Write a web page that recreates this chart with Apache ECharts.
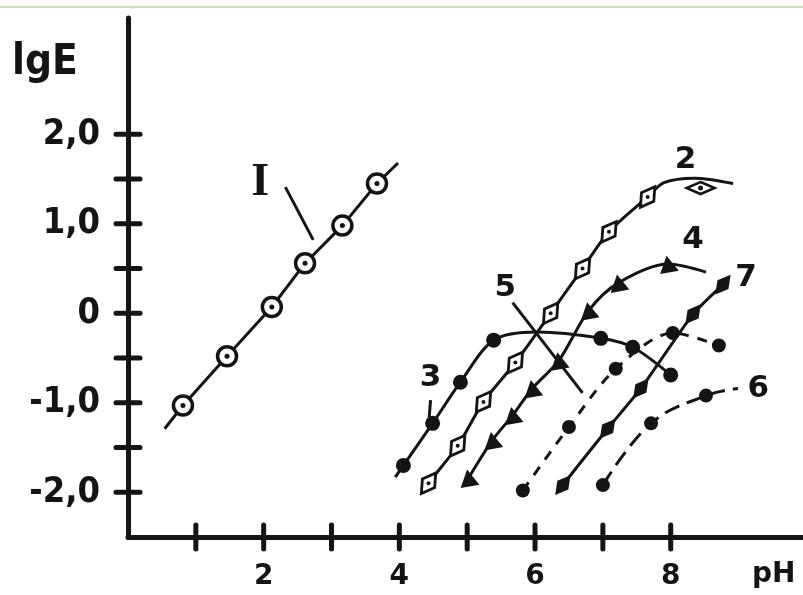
<!DOCTYPE html>
<html>
<head>
<meta charset="utf-8">
<script src="https://cdn.jsdelivr.net/npm/echarts@6/dist/echarts.min.js"></script>
<style>
html,body{margin:0;padding:0;background:#fff;}
#chart{width:803px;height:595px;}
</style>
</head>
<body>
<div id="chart"></div>
<script>
// ---- data (pH, lgE) ----
const xTickValues = [1, 2, 3, 4, 5, 6, 7, 8];
const xLabelValues = [2, 4, 6, 8];
const yTickValues = [-2, -1.5, -1, -0.5, 0, 0.5, 1, 1.5, 2];
const yLabelValues = [-2, -1, 0, 1, 2];

const curveI = [[0.81,-1.03],[1.46,-0.48],[2.12,0.07],[2.61,0.56],[3.16,0.98],[3.67,1.45]];
const curveIEnds = [[0.54,-1.29],[3.98,1.68]];

const curve2 = [[4.43,-1.90],[4.86,-1.48],[5.24,-0.99],[5.71,-0.55],[6.23,0.00],[6.70,0.50],[7.09,0.91],[7.66,1.30]];
const curve2Tail = [[7.90,1.46],[8.35,1.51],[8.92,1.45]];
const curve2Start = [4.35,-2.01];
const curve2Extra = [[8.44,1.40]];

const curve3 = [[4.06,-1.70],[4.49,-1.23],[4.90,-0.77],[5.39,-0.30],[6.97,-0.28],[7.44,-0.38],[8.00,-0.69]];
const curve3Start = [3.94,-1.83];
const curve3Peak = [6.04,-0.21];

const curve4 = [[5.02,-1.84],[5.37,-1.42],[5.67,-1.14],[5.96,-0.84],[6.35,-0.53],[6.79,0.03],[7.23,0.34],[7.96,0.55]];
const curve4Ends = [[4.97,-1.92],[8.52,0.46]];

const curve5 = [[5.82,-1.98],[6.50,-1.27],[7.19,-0.62],[8.03,-0.22],[8.71,-0.36]];

const curve6 = [[7.00,-1.92],[7.71,-1.23],[8.52,-0.92]];
const curve6End = [8.99,-0.84];

const curve7 = [[6.41,-1.92],[7.07,-1.29],[7.56,-0.84],[8.33,-0.01],[8.77,0.32]];
const curve7Start = [6.35,-2.00];

const curveLabels = [
  {text:'I', pos:[1.95,1.45]},
  {text:'2', pos:[8.22,1.71]},
  {text:'3', pos:[4.46,-0.72]},
  {text:'4', pos:[8.33,0.82]},
  {text:'5', pos:[5.56,0.28]},
  {text:'6', pos:[9.29,-0.84]},
  {text:'7', pos:[9.11,0.40]}
];
const leaders = [
  [[2.32,1.41],[2.73,0.82]],
  [[4.46,-0.97],[4.44,-1.16]],
  [[5.67,0.12],[6.70,-0.89]]
];

// ---- build ----
const INK = '#141414';
const X_MIN = 0, X_MAX = 9.95, Y_MIN = -2.5, Y_MAX = 3.3;
const TICK_HALF = 12;
const chart = echarts.init(document.getElementById('chart'));

function lineSeries(data, opts) {
  return Object.assign({
    type: 'line', data: data, showSymbol: false, symbol: 'none',
    lineStyle: {color: INK, width: 3}, z: 3, silent: true, animation: false
  }, opts || {});
}
function pointSeries(data, opts) {
  const s = Object.assign({
    type: 'scatter', data: data, z: 5, silent: true, animation: false
  }, opts || {});
  s.itemStyle = Object.assign({color: INK, opacity: 1}, s.itemStyle || {});
  return s;
}
// crossing tick marks, placed through the axes' own scales
function tickSeries(values, dir) {
  return {
    type: 'custom', silent: true, animation: false, clip: false, z: 8,
    data: values,
    renderItem: function (params, api) {
      const v = api.value(0);
      let x1, y1, x2, y2;
      if (dir === 'x') {
        const p = api.coord([v, Y_MIN]);
        x1 = x2 = p[0]; y1 = p[1] - TICK_HALF; y2 = p[1] + TICK_HALF;
      } else {
        const p = api.coord([X_MIN, v]);
        y1 = y2 = p[1]; x1 = p[0] - TICK_HALF; x2 = p[0] + TICK_HALF;
      }
      return {type: 'line', shape: {x1, y1, x2, y2},
              style: {stroke: INK, lineWidth: 5, lineCap: 'round'}};
    },
    encode: {x: 0}
  };
}

const series = [
  // curve I
  lineSeries([curveIEnds[0], ...curveI, curveIEnds[1]]),
  pointSeries(curveI, {symbol:'circle', symbolSize:19, itemStyle:{color:'#fff', borderColor:INK, borderWidth:3.5}}),
  pointSeries(curveI, {symbol:'circle', symbolSize:5, z:6}),
  // curve 2
  lineSeries([curve2Start, ...curve2, ...curve2Tail], {smooth:0.3}),
  pointSeries(curve2, {symbol:'diamond', symbolSize:[15,25], symbolRotate:-35, itemStyle:{color:'#fff', borderColor:INK, borderWidth:3}}),
  pointSeries(curve2, {symbol:'circle', symbolSize:4, z:6}),
  pointSeries(curve2Extra, {symbol:'diamond', symbolSize:[28,12], itemStyle:{color:'#fff', borderColor:INK, borderWidth:3}}),
  pointSeries(curve2Extra, {symbol:'circle', symbolSize:5, z:6}),
  // curve 3
  lineSeries([curve3Start, ...curve3.slice(0,4), curve3Peak, ...curve3.slice(4)], {smooth:0.3}),
  pointSeries(curve3, {symbol:'circle', symbolSize:15}),
  // curve 4
  lineSeries([curve4Ends[0], ...curve4, curve4Ends[1]], {smooth:0.3}),
  pointSeries(curve4, {symbol:'triangle', symbolSize:[19,17], symbolRotate:10}),
  // curve 5 (dashed)
  lineSeries(curve5, {smooth:0.3, lineStyle:{color:INK, width:3, type:[10,9]}}),
  pointSeries(curve5, {symbol:'circle', symbolSize:14}),
  // curve 6 (long dash)
  lineSeries([...curve6, curve6End], {smooth:0.4, lineStyle:{color:INK, width:3, type:[16,8]}}),
  pointSeries(curve6, {symbol:'circle', symbolSize:14}),
  // curve 7
  lineSeries([curve7Start, ...curve7], {smooth:0.2}),
  pointSeries(curve7, {symbol:'diamond', symbolSize:[14,25], symbolRotate:-38}),
  // leader lines
  ...leaders.map(l => lineSeries(l, {lineStyle:{color:INK, width:3}})),
  // axis ticks
  tickSeries(xTickValues, 'x'),
  tickSeries(yTickValues, 'y'),
  // curve labels
  {
    type:'scatter', symbol:'circle', symbolSize:1, silent:true, animation:false, z:7,
    itemStyle:{color:'rgba(0,0,0,0)', opacity:1},
    data: curveLabels.map(c => ({name:c.text, value:c.pos})),
    label:{show:true, position:'inside', formatter:p => p.name, color:INK,
      textBorderWidth:0, opacity:1,
      fontFamily:'DejaVu Sans', fontSize:31, fontWeight:'bold'}
  }
];
// serif "I"
series[series.length-1].data[0].label = {fontFamily:'Liberation Serif', fontSize:46, fontWeight:'bold'};

const yFmt = v => v === 0 ? '0' : v.toFixed(1).replace('.', ',');
const axisLineStyle = {color:INK, width:5, cap:'round'};

const option = {
  backgroundColor: '#ffffff',
  animation: false,
  grid: {left:128, right:0, top:18, bottom:58, containLabel:false},
  xAxis: {type:'value', min:X_MIN, max:X_MAX, position:'bottom',
     axisLine:{show:true, onZero:false, lineStyle:axisLineStyle},
     axisTick:{show:false},
     axisLabel:{show:true, customValues:xLabelValues, margin:26, color:INK,
       fontFamily:'DejaVu Sans', fontWeight:'bold', fontSize:28},
     splitLine:{show:false}},
  yAxis: {type:'value', min:Y_MIN, max:Y_MAX, position:'left',
     axisLine:{show:true, onZero:false, lineStyle:axisLineStyle},
     axisTick:{show:false},
     axisLabel:{show:true, customValues:yLabelValues, formatter:yFmt, margin:28, color:INK,
       fontFamily:'DejaVu Sans Condensed', fontWeight:'bold', fontSize:36},
     splitLine:{show:false}},
  graphic: [
    {type:'line', shape:{x1:0, y1:7, x2:803, y2:7}, style:{stroke:'#cfe2b6', lineWidth:2}, silent:true},
    {type:'text', left:12, top:42, style:{text:'lgE', fill:INK, font:'bold 42px "DejaVu Sans Condensed"'}, silent:true},
    {type:'text', left:752, top:561, style:{text:'pH', fill:INK, font:'bold 28px "DejaVu Sans"'}, silent:true}
  ],
  series: series
};
chart.setOption(option);
</script>
</body>
</html>
